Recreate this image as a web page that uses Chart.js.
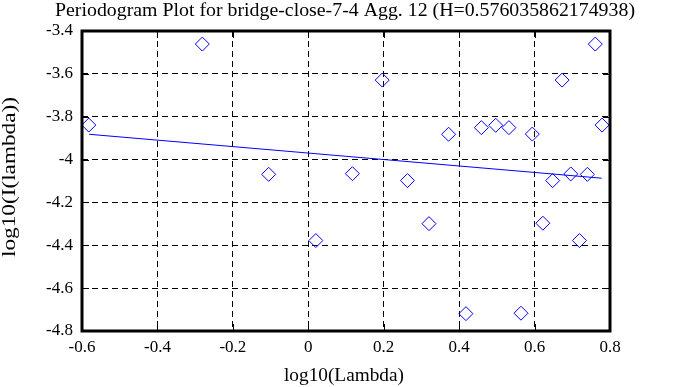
<!DOCTYPE html>
<html>
<head>
<meta charset="utf-8">
<script src="https://cdn.jsdelivr.net/npm/chart.js@4/dist/chart.umd.min.js"></script>
<style>
  html, body { margin: 0; padding: 0; background: #fff; }
  #wrap { width: 688px; height: 387px; position: relative; }
</style>
</head>
<body>
<div id="wrap"><canvas id="periodogram"></canvas></div>
<script>
const titleText = 'Periodogram Plot for bridge-close-7-4 Agg. 12 (H=0.576035862174938)';
const xTitle = 'log10(Lambda)';
const yTitle = 'log10(I(lambda))';
const logLambda = [-0.582, -0.281, -0.105, 0.020, 0.117, 0.196, 0.263, 0.320, 0.372, 0.418, 0.459, 0.497,
  0.532, 0.564, 0.594, 0.622, 0.648, 0.673, 0.696, 0.719, 0.740, 0.761, 0.779];
const logI = [-3.839, -3.461, -4.069, -4.378, -4.066, -3.629, -4.098, -4.299, -3.882, -4.719, -3.851, -3.840,
  -3.851, -4.717, -3.881, -4.297, -4.098, -3.629, -4.067, -4.378, -4.069, -3.461, -3.839];
const fitX = [-0.581, 0.778];
const fitY = [-3.882, -4.087];
const xTicks = [-0.6, -0.4, -0.2, 0, 0.2, 0.4, 0.6, 0.8];
const yTicks = [-4.8, -4.6, -4.4, -4.2, -4, -3.8, -3.6, -3.4];

const serif = "'Liberation Serif', 'DejaVu Serif', serif";

// text squeezed/stretched to a given width, the old plot's font is wider
function fitText(ctx, text, cx, cy, width, size, rot) {
  ctx.save();
  ctx.font = size + 'px ' + serif;
  const w = ctx.measureText(text).width;
  ctx.translate(cx, cy);
  if (rot) ctx.rotate(-Math.PI / 2);
  ctx.scale(width / w, 1);
  ctx.textAlign = 'center';
  ctx.textBaseline = 'middle';
  ctx.fillStyle = '#000';
  ctx.fillText(text, 0, 0);
  ctx.restore();
}

// frame + inner tick marks + titles
const framePlugin = {
  id: 'frame',
  afterDraw(chart) {
    const ctx = chart.ctx;
    const a = chart.chartArea;
    const xs = chart.scales.x, ys = chart.scales.y;
    ctx.save();
    ctx.strokeStyle = '#000';
    ctx.lineWidth = 1;
    ctx.beginPath();
    xTicks.forEach(v => {
      const px = Math.round(xs.getPixelForValue(v)) + 0.5;
      ctx.moveTo(px, a.bottom); ctx.lineTo(px, a.bottom - 7);
      ctx.moveTo(px, a.top); ctx.lineTo(px, a.top + 7);
    });
    yTicks.forEach(v => {
      const py = Math.round(ys.getPixelForValue(v)) + 0.5;
      ctx.moveTo(a.left, py); ctx.lineTo(a.left + 7, py);
      ctx.moveTo(a.right, py); ctx.lineTo(a.right - 7, py);
    });
    ctx.stroke();
    ctx.lineWidth = 3;
    ctx.strokeRect(a.left, a.top, a.right - a.left, a.bottom - a.top);
    ctx.restore();

    fitText(ctx, titleText, 345, 11, 580, 18, false);
    fitText(ctx, xTitle, 344, 376, 120, 19, false);
    fitText(ctx, yTitle, 10, 177, 160, 19, true);
  }
};

const ctx = document.getElementById('periodogram');

new Chart(ctx, {
  data: {
    datasets: [
      {
        type: 'scatter',
        data: logLambda.map((x, i) => ({ x: x, y: logI[i] })),
        pointStyle: 'rectRot',
        pointRadius: 7,
        pointHoverRadius: 7,
        borderColor: '#0000ff',
        backgroundColor: 'rgba(0,0,0,0)',
        borderWidth: 1
      },
      {
        type: 'line',
        data: fitX.map((x, i) => ({ x: x, y: fitY[i] })),
        borderColor: '#0000ff',
        borderWidth: 1,
        pointRadius: 0,
        fill: false
      }
    ]
  },
  options: {
    responsive: true,
    maintainAspectRatio: false,
    animation: false,
    layout: { padding: { top: 31, right: 78, left: 0, bottom: 0 } },
    plugins: {
      legend: { display: false },
      tooltip: { enabled: false }
    },
    scales: {
      x: {
        type: 'linear',
        min: -0.6,
        max: 0.8,
        afterBuildTicks: s => { s.ticks = xTicks.map(v => ({ value: v })); },
        afterFit: s => { s.height = 56; },
        ticks: {
          color: '#000',
          font: { family: serif, size: 17 },
          padding: 6,
          maxRotation: 0,
          callback: v => String(+v.toFixed(1))
        },
        grid: { color: '#000', lineWidth: 1, drawTicks: false },
        border: { display: false, dash: [6, 4] }
      },
      y: {
        type: 'linear',
        min: -4.8,
        max: -3.4,
        afterBuildTicks: s => { s.ticks = yTicks.map(v => ({ value: v })); },
        afterFit: s => { s.width = 82; },
        ticks: {
          color: '#000',
          font: { family: serif, size: 17 },
          padding: 9,
          callback: v => String(+v.toFixed(1))
        },
        grid: { color: '#000', lineWidth: 1, drawTicks: false },
        border: { display: false, dash: [6, 4] }
      }
    }
  },
  plugins: [framePlugin]
});
</script>
</body>
</html>
